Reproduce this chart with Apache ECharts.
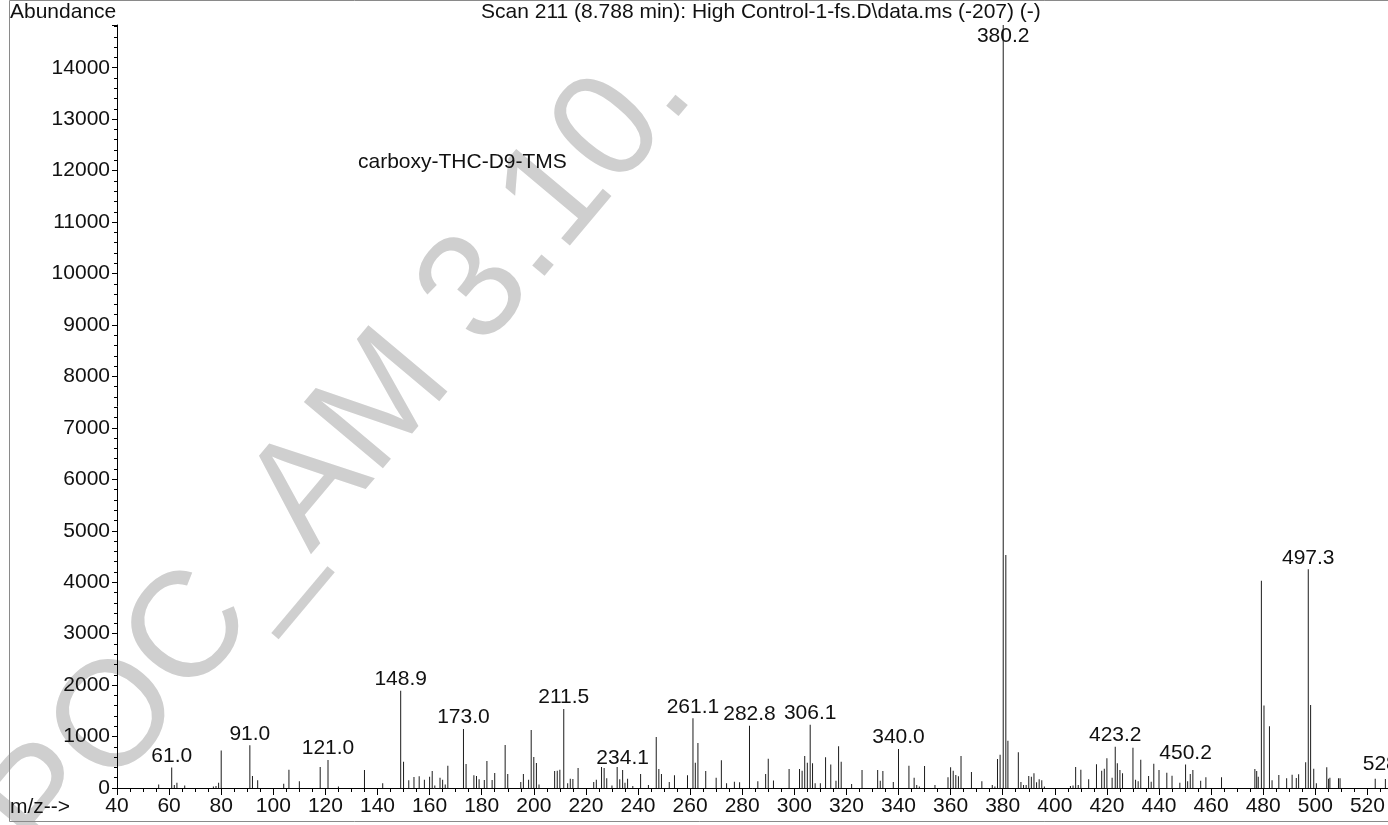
<!DOCTYPE html>
<html>
<head>
<meta charset="utf-8">
<script src="https://cdn.jsdelivr.net/npm/echarts@6/dist/echarts.min.js"></script>
<style>
  html, body { margin: 0; padding: 0; background: #ffffff; }
  #chart { width: 1388px; height: 825px; }
</style>
</head>
<body>
<div id="chart"></div>
<script>
// Scan 211 mass spectrum: m/z values and their abundances
const massToCharge = [
  56, 61.0, 62, 63, 66, 77, 78, 79, 80, 91.0, 92, 94, 104, 106, 110, 118, 121.0, 125, 135, 142,
  148.9, 150, 152, 154, 156, 158, 160, 161, 162, 164, 165, 166, 167, 173.0, 174, 177, 178, 179, 181, 182,
  184, 185, 189, 190, 195, 196, 198, 199, 200, 201, 202, 208, 209, 210, 211.5, 213, 214, 215, 217, 223,
  224, 226, 227, 228, 230, 232, 233, 234.1, 235, 236, 238, 241, 244, 247, 248, 249, 252, 254, 259, 261.1,
  262, 263, 266, 270, 272, 274, 277, 279, 282.8, 286, 289, 290, 292, 298, 302, 303, 304, 305, 306.1, 307,
  308, 310, 312, 314, 316, 317, 318, 322, 326, 332, 333, 334, 338, 340.0, 344, 346, 347, 348, 350, 354,
  359, 360, 361, 362, 363, 364, 368, 372, 376, 377, 378, 379, 380.2, 381.2, 382, 386, 387, 388, 389, 390,
  391, 392, 393, 394, 395, 396, 406, 407, 408, 409, 410, 413, 416, 418, 419, 420, 422, 423.2, 424, 425,
  426, 430, 431, 432, 433, 436, 437, 438, 440, 443, 445, 448, 450.2, 451, 452, 453, 456, 458, 464, 476.8,
  477.5, 478.1, 479.3, 480.3, 482.4, 483.4, 486, 489, 491.1, 492.7, 493.6, 496.3, 497.3, 498.2, 499.4, 500.4,
  504.4, 505.1, 505.6, 508.9, 509.5, 523, 526.9, 528.3
];
const abundance = [
  70, 400, 60, 100, 50, 30, 40, 100, 730, 830, 233, 150, 85, 356, 130, 408, 544, 30, 350, 90,
  1892, 511, 150, 214, 230, 160, 220, 330, 50, 200, 160, 70, 434, 1147, 466, 246, 233, 170, 155, 525,
  155, 290, 836, 270, 115, 270, 160, 1127, 603, 486, 70, 330, 336, 356, 1536, 90, 180, 175, 390, 115,
  160, 408, 390, 190, 50, 408, 170, 350, 100, 180, 40, 270, 60, 991, 370, 270, 115, 250, 250, 1354,
  492, 875, 330, 200, 538, 90, 120, 110, 1212, 130, 270, 570, 145, 370, 370, 336, 622, 492, 1231, 480,
  90, 90, 596, 455, 140, 810, 510, 80, 350, 350, 140, 330, 115, 758, 434, 200, 60, 30, 430, 60,
  208, 402, 337, 253, 230, 622, 311, 130, 60, 30, 564, 648, 14830, 4530, 920, 694, 115, 60, 60, 233,
  220, 285, 110, 170, 150, 30, 40, 50, 408, 60, 356, 170, 460, 336, 375, 577, 200, 800, 483, 350,
  285, 784, 160, 130, 548, 233, 120, 470, 350, 298, 240, 100, 455, 130, 270, 350, 140, 210, 208, 370,
  330, 220, 4030, 1605, 1200, 150, 253, 188, 259, 194, 266, 500, 4251, 1613, 375, 90,
  402, 181, 201, 188, 188, 181, 175, 233
];
// Peaks whose m/z is printed above the line
const annotatedPeaks = [61.0, 91.0, 121.0, 148.9, 173.0, 211.5, 234.1, 261.1, 282.8, 306.1, 340.0,
  380.2, 423.2, 450.2, 497.3, 528.3];
// The base peak is annotated just under its tip
const basePeak = 380.2;

const titleText = 'Scan 211 (8.788 min): High Control-1-fs.D\\data.ms (-207) (-)';
const compoundName = 'carboxy-THC-D9-TMS';
const yAxisName = 'Abundance';
const xAxisName = 'm/z-->';
const stampText = 'POC_AM 3.10.';

const xRange = [40, 540];
const yRange = [0, 14830];
const xStep = 20;
const yStep = 1000;

const FONT = "'Liberation Sans', Arial, Helvetica, sans-serif";
const INK = '#111111';

const peaks = massToCharge.map((m, i) => {
  const item = { value: [m, abundance[i]] };
  if (annotatedPeaks.includes(m)) {
    item.label = m === basePeak
      ? { show: true, position: 'insideTop', distance: 1 }
      : { show: true, position: 'top', distance: 1 };
  }
  return item;
});

const chart = echarts.init(document.getElementById('chart'), null, { renderer: 'canvas' });
chart.setOption({
  animation: false,
  backgroundColor: '#ffffff',
  textStyle: { fontFamily: FONT },
  grid: { left: 117, top: 25, width: 1302.5, height: 763, containLabel: false, outerBoundsMode: 'none' },
  xAxis: {
    type: 'value',
    min: xRange[0], max: xRange[1], interval: xStep,
    axisLine: { show: true, onZero: false, lineStyle: { color: '#000', width: 1 } },
    axisTick: { show: true, length: 7, lineStyle: { color: '#000' } },
    minorTick: { show: true, splitNumber: 4, length: 4, lineStyle: { color: '#000' } },
    splitLine: { show: false },
    axisLabel: { fontSize: 21, color: INK, margin: 8, fontFamily: FONT, showMaxLabel: false,
      formatter: v => String(v) }
  },
  yAxis: {
    type: 'value',
    min: yRange[0], max: yRange[1], interval: yStep,
    axisLine: { show: true, lineStyle: { color: '#000', width: 1 } },
    axisTick: { show: true, length: 5, lineStyle: { color: '#000' } },
    minorTick: { show: true, splitNumber: 5, length: 3, lineStyle: { color: '#000' } },
    splitLine: { show: false },
    axisLabel: { fontSize: 21, color: INK, margin: 7, fontFamily: FONT, showMaxLabel: false,
      formatter: v => String(v) }
  },
  series: [{
    type: 'bar',
    barWidth: 1,
    itemStyle: { color: '#1c1c1c' },
    label: {
      show: false,
      fontSize: 21,
      color: INK,
      fontFamily: FONT,
      formatter: p => p.value[0].toFixed(1)
    },
    data: peaks,
    z: 3
  }],
  graphic: [
    {
      // document stamp laid diagonally under the spectrum
      type: 'text', z: -10, silent: true,
      x: 74, y: 889, rotation: 50 * Math.PI / 180,
      style: { text: stampText, fontSize: 150, fontFamily: FONT, fill: '#cfcfcf',
        textAlign: 'left', textVerticalAlign: 'bottom' }
    },
    {
      type: 'rect', silent: true, z: 1,
      shape: { x: 9.5, y: 0.5, width: 1400, height: 821 },
      style: { fill: 'none', stroke: '#8a8a8a', lineWidth: 1 }
    },
    {
      type: 'text', silent: true, z: 5, x: 10, y: 12,
      style: { text: yAxisName, fontSize: 21, fontFamily: FONT, fill: INK, textVerticalAlign: 'middle' }
    },
    {
      type: 'text', silent: true, z: 5, x: 481, y: 12.5,
      style: { text: titleText, fontSize: 21, fontFamily: FONT, fill: INK, textVerticalAlign: 'middle' }
    },
    {
      type: 'text', silent: true, z: 5, x: 358, y: 162,
      style: { text: compoundName, fontSize: 21, fontFamily: FONT, fill: INK, textVerticalAlign: 'middle' }
    },
    {
      type: 'text', silent: true, z: 5, x: 10, y: 807,
      style: { text: xAxisName, fontSize: 21, fontFamily: FONT, fill: INK, textVerticalAlign: 'middle' }
    }
  ]
});
</script>
</body>
</html>
